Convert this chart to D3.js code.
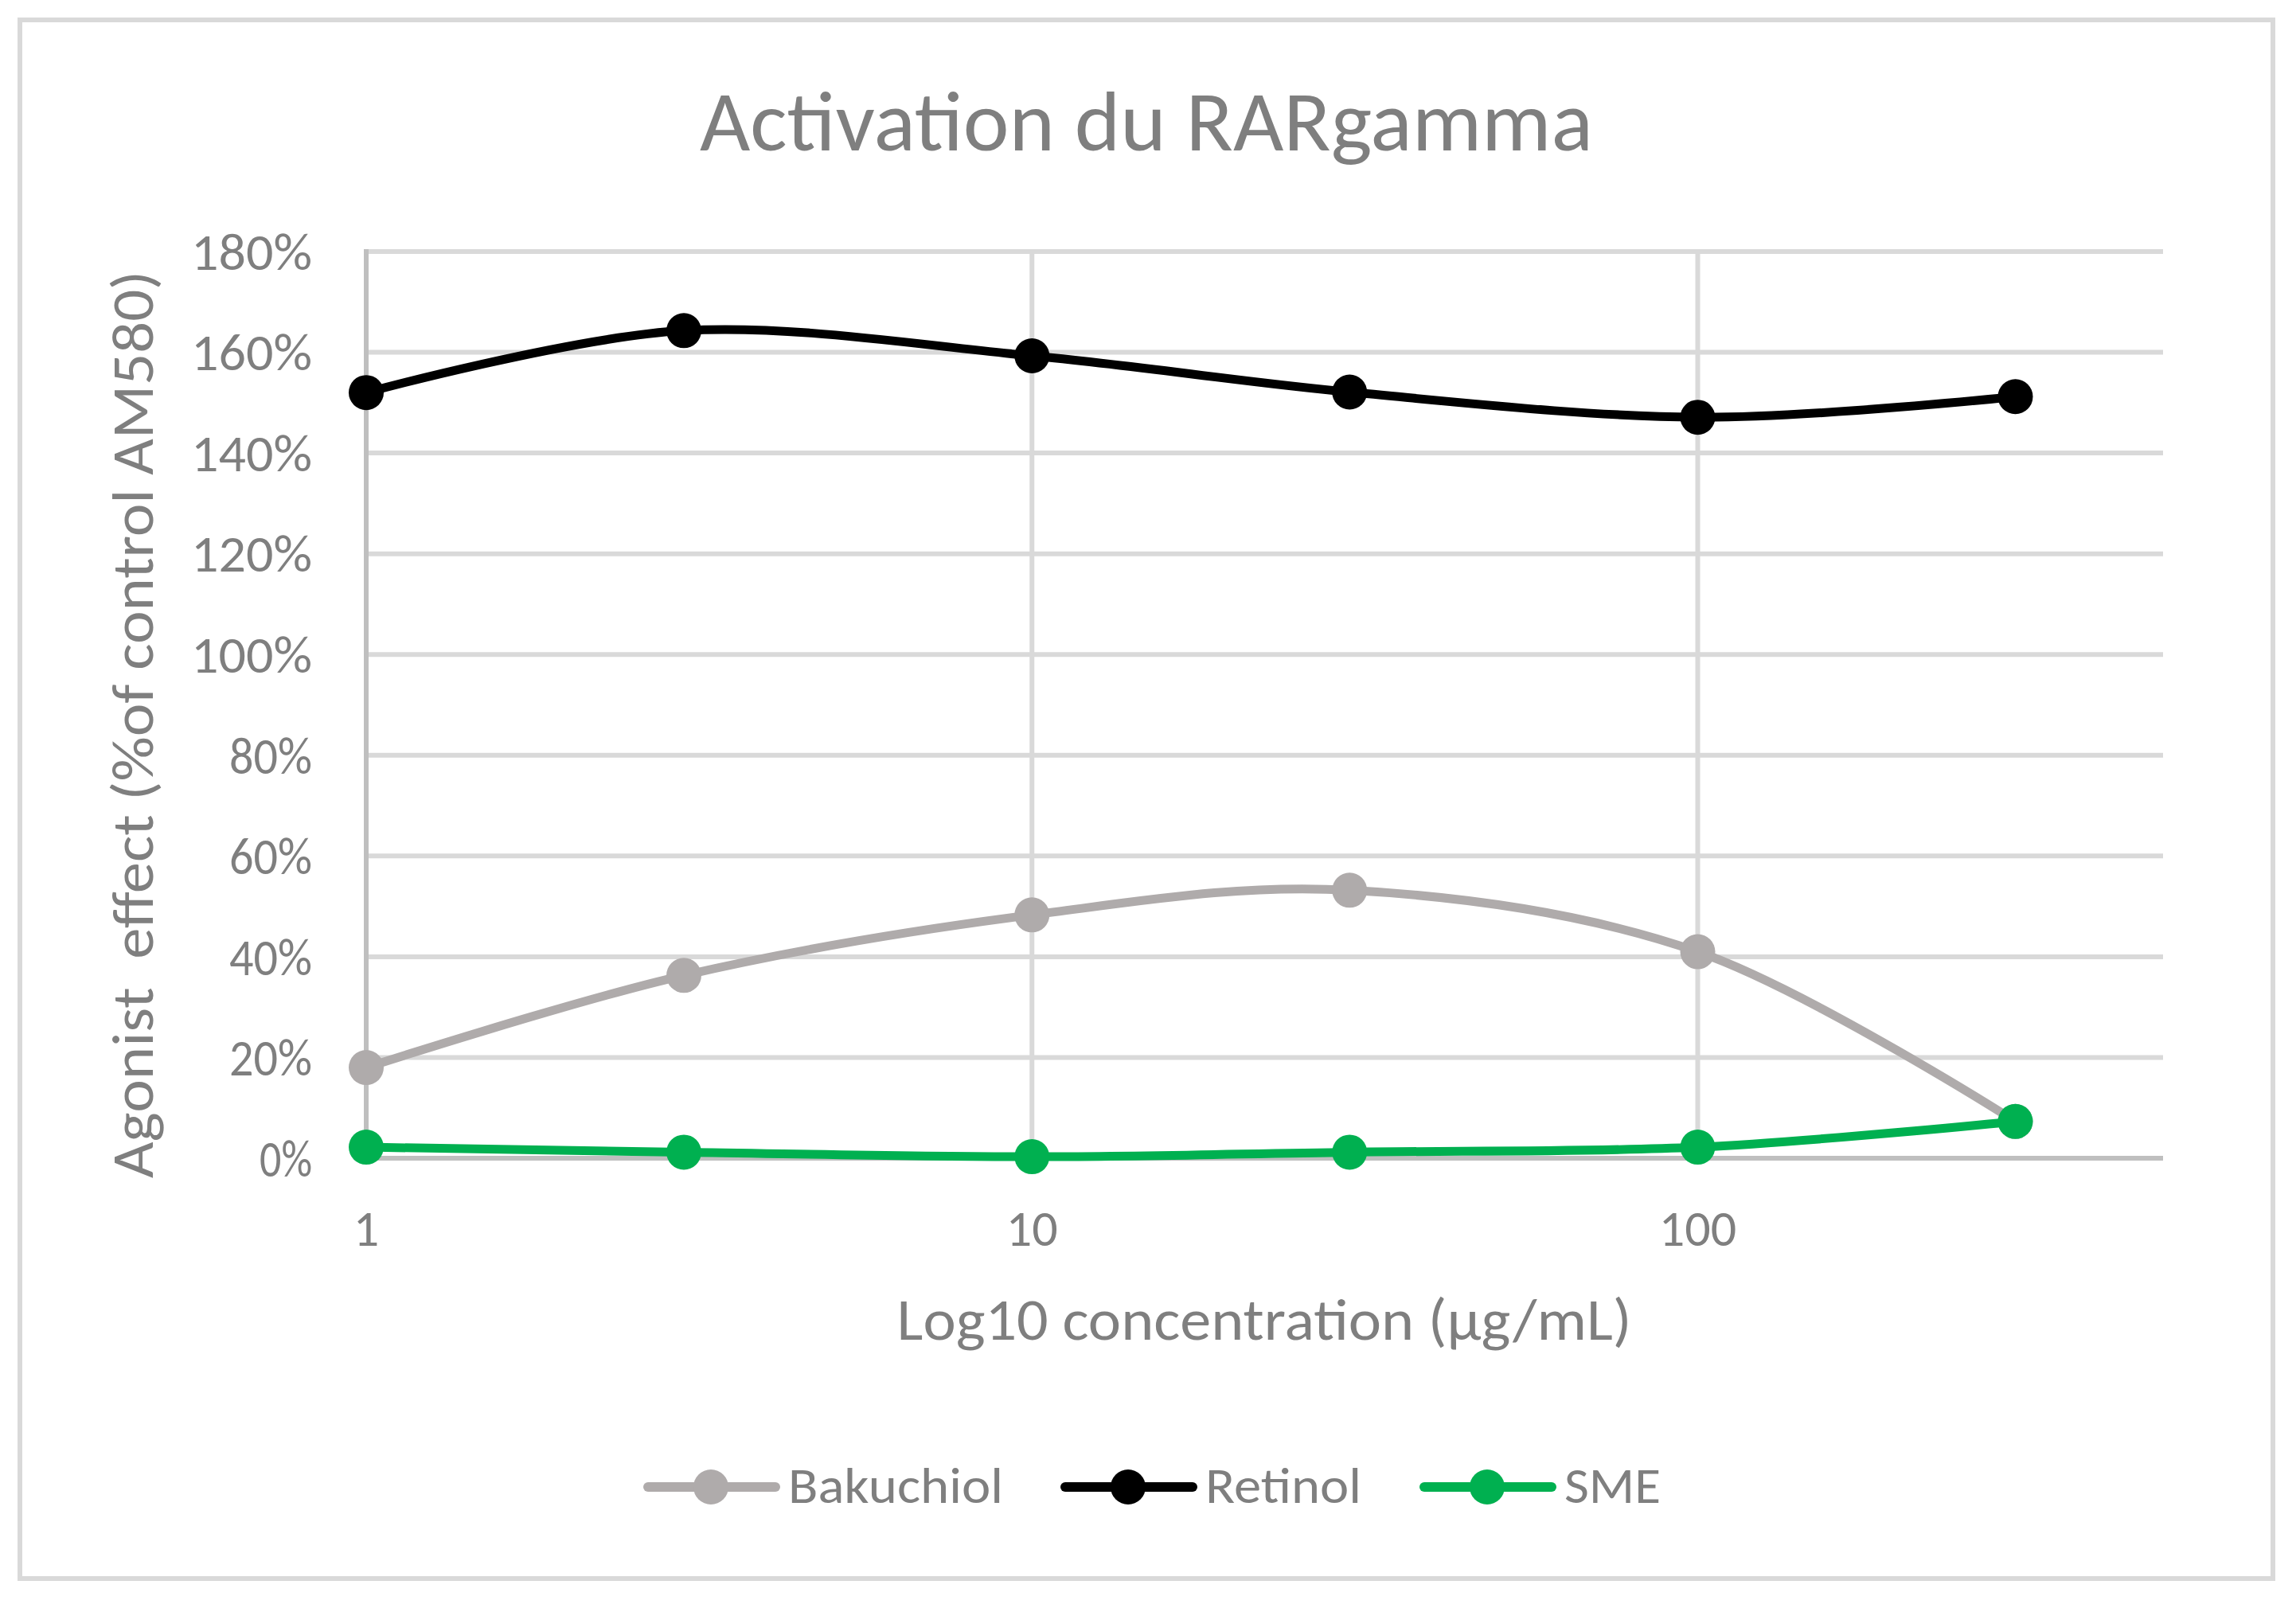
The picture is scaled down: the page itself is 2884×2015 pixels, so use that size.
<!DOCTYPE html>
<html>
<head>
<meta charset="utf-8">
<script src="https://cdn.jsdelivr.net/npm/d3@7"></script>
<style>
  html, body { margin: 0; padding: 0; background: #fff; }
  svg { display: block; }
  text { font-family: Carlito, Calibri, Lato, sans-serif; fill: #7f7f7f; }
</style>
</head>
<body>
<script>
// ---------- data ----------
const concentrations = [1, 3, 10, 30, 100, 300];
const bakuchiol = [0.18, 0.363, 0.483, 0.532, 0.41, 0.073];
const retinol   = [1.52, 1.643, 1.593, 1.521, 1.471, 1.512];
const sme       = [0.022, 0.012, 0.003, 0.012, 0.022, 0.073];
const seriesNames = ["Bakuchiol", "Retinol", "SME"];
const seriesColors = ["#afabab", "#000000", "#00b050"];
const yTicks = [0, 0.2, 0.4, 0.6, 0.8, 1.0, 1.2, 1.4, 1.6, 1.8];
const xTicks = [1, 10, 100];
const titleText = "Activation du RARgamma";
const xTitle = "Log10 concentration (\u00b5g/mL)";
const yTitle = "Agonist\u00a0 effect (%of control AM580)";

// ---------- layout ----------
const W = 2884, H = 2015;
const plot = { left: 460, right: 2717, top: 316, bottom: 1455 };

const svg = d3.select("body").append("svg").attr("width", W).attr("height", H);
svg.append("rect").attr("width", W).attr("height", H).attr("fill", "#fff");
svg.append("rect").attr("x", 25).attr("y", 25).attr("width", 2830).attr("height", 1958)
  .attr("fill", "#fff").attr("stroke", "#d9d9d9").attr("stroke-width", 6);

const x = d3.scaleLog().domain([1, 500]).range([plot.left, plot.right]);
const y = d3.scaleLinear().domain([0, 1.8]).range([plot.bottom, plot.top]);

// gridlines
svg.append("g").selectAll("line").data(yTicks.filter(d => d > 0)).join("line")
  .attr("x1", plot.left).attr("x2", plot.right)
  .attr("y1", d => y(d)).attr("y2", d => y(d))
  .attr("stroke", "#d9d9d9").attr("stroke-width", 6);
svg.append("g").selectAll("line").data(xTicks.filter(d => d > 1)).join("line")
  .attr("x1", d => x(d)).attr("x2", d => x(d))
  .attr("y1", plot.top).attr("y2", plot.bottom)
  .attr("stroke", "#d9d9d9").attr("stroke-width", 6);

// axes lines
svg.append("line").attr("x1", plot.left).attr("x2", plot.right)
  .attr("y1", y(0)).attr("y2", y(0)).attr("stroke", "#bfbfbf").attr("stroke-width", 6);
svg.append("line").attr("x1", x(1)).attr("x2", x(1))
  .attr("y1", plot.top - 3).attr("y2", plot.bottom).attr("stroke", "#bfbfbf").attr("stroke-width", 6);

// y tick labels
const fmt = d3.format(".0%");
svg.append("g").selectAll("text").data(yTicks).join("text")
  .attr("x", 392).attr("y", d => y(d)).attr("dy", "0.35em")
  .attr("text-anchor", "end").attr("font-size", 65)
  .attr("textLength", d => fmt(d).length === 4 ? 152 : (fmt(d).length === 3 ? 104 : 66))
  .attr("lengthAdjust", "spacingAndGlyphs")
  .text(d => fmt(d));

// x tick labels
svg.append("g").selectAll("text").data(xTicks).join("text")
  .attr("x", d => x(d)).attr("y", 1565)
  .attr("text-anchor", "middle").attr("font-size", 64).text(d => d);

// titles
svg.append("text").attr("x", 1440).attr("y", 189).attr("text-anchor", "middle")
  .attr("font-size", 108).attr("textLength", 1122).attr("lengthAdjust", "spacingAndGlyphs")
  .text(titleText);
svg.append("text").attr("x", 1588).attr("y", 1683).attr("text-anchor", "middle")
  .attr("font-size", 74).attr("textLength", 923).attr("lengthAdjust", "spacingAndGlyphs")
  .text(xTitle);
svg.append("text").attr("transform", "translate(192,910) rotate(-90)")
  .attr("text-anchor", "middle").attr("font-size", 74)
  .attr("textLength", 1140).attr("lengthAdjust", "spacingAndGlyphs").text(yTitle);

// series
const allSeries = [bakuchiol, retinol, sme].map((vals, i) => ({
  name: seriesNames[i], color: seriesColors[i],
  pts: concentrations.map((c, j) => [c, vals[j]])
}));
const line = d3.line().x(d => x(d[0])).y(d => y(d[1])).curve(d3.curveCardinal.tension(0));
const gS = svg.append("g");
allSeries.forEach(s => {
  gS.append("path").attr("d", line(s.pts)).attr("fill", "none")
    .attr("stroke", s.color).attr("stroke-width", 11).attr("stroke-linecap", "round");
  gS.append("g").selectAll("circle").data(s.pts).join("circle")
    .attr("cx", d => x(d[0])).attr("cy", d => y(d[1])).attr("r", 22).attr("fill", s.color);
});

// legend
const legendStarts = [814, 1338, 1789];
const legendTextLen = [270, 196, 121];
const legY = 1868;
const lg = svg.append("g");
allSeries.forEach((s, i) => {
  const x0 = legendStarts[i];
  lg.append("line").attr("x1", x0).attr("x2", x0 + 160).attr("y1", legY).attr("y2", legY)
    .attr("stroke", s.color).attr("stroke-width", 12).attr("stroke-linecap", "round");
  lg.append("circle").attr("cx", x0 + 79).attr("cy", legY).attr("r", 22).attr("fill", s.color);
  lg.append("text").attr("x", x0 + 176).attr("y", 1888).attr("font-size", 64)
    .attr("textLength", legendTextLen[i]).attr("lengthAdjust", "spacingAndGlyphs").text(s.name);
});
</script>
</body>
</html>
